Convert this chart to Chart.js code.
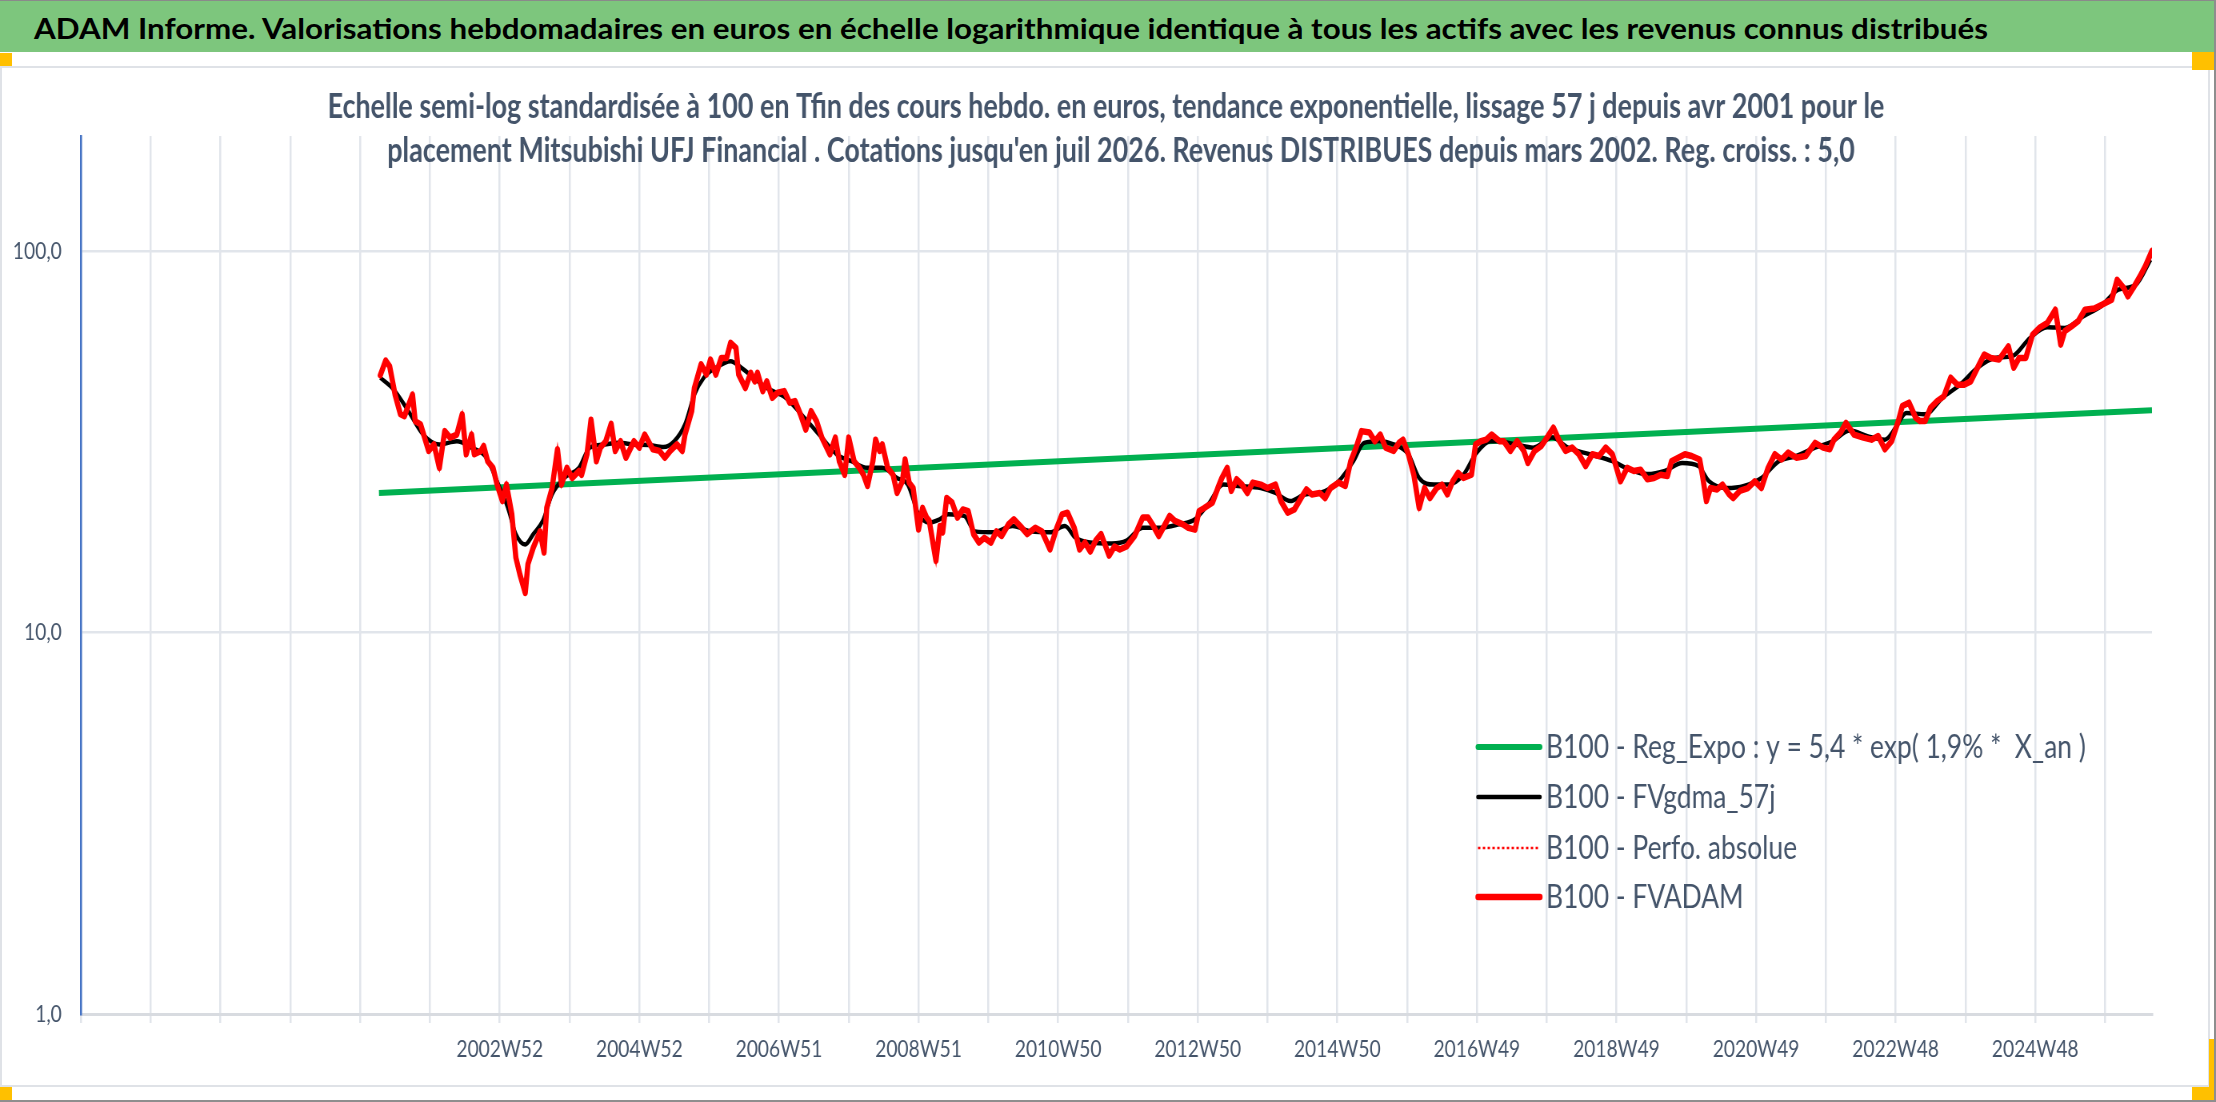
<!DOCTYPE html>
<html>
<head>
<meta charset="utf-8">
<title>ADAM Informe - Mitsubishi UFJ Financial</title>
<script src="https://cdn.jsdelivr.net/npm/chart.js"></script>
<style>
  body { margin: 0; width: 2216px; height: 1102px; overflow: hidden; background: #fff; position: relative; font-family: Lato, sans-serif; }
  #band { position: absolute; left: 0; top: 0; width: 2216px; height: 52px; background: #7dc67d; border-top: 1px solid #8a8a8a; box-sizing: border-box; z-index: 3; }
  #bandText { position: absolute; left: 34px; top: 12px; font: 700 29px/29px Lato, sans-serif; color: #000; white-space: nowrap; transform-origin: 0 0; }
  #frame { position: absolute; left: 0; top: 66px; width: 2210px; height: 1021px; border: 2px solid #dfe2e7; box-sizing: border-box; }
  .hd { position: absolute; background: #ffc000; z-index: 3; }
  .edge { position: absolute; background: #8e8e8e; z-index: 3; }
  #chart { position: absolute; left: 0; top: 0; z-index: 2; }
</style>
</head>
<body>
<div id="band"><span id="bandText">ADAM Informe. Valorisations hebdomadaires en euros en échelle logarithmique identique à tous les actifs avec les revenus connus distribués</span></div>
<div id="frame"></div>
<div class="hd" style="left:0;top:53px;width:12px;height:13px"></div>
<div class="hd" style="left:2192px;top:52px;width:22px;height:18px"></div>
<div class="hd" style="left:0;top:1087px;width:12px;height:13px"></div>
<div class="hd" style="left:2192px;top:1087px;width:22px;height:13px"></div>
<div class="hd" style="left:2209px;top:1039px;width:5px;height:61px"></div>
<div class="edge" style="left:0;top:1100px;width:2216px;height:2px"></div>
<div class="edge" style="left:2214px;top:0;width:2px;height:1102px"></div>
<canvas id="chart" width="2770" height="1102" style="width:2216px;height:1102px"></canvas>
<script>
// the whole chart is drawn 25% wider and shown squeezed, like the reference
const S = 0.8
const W = 2770

const subtitleLines = [
  'Echelle semi-log standardisée à 100 en Tfin des cours hebdo. en euros, tendance exponentielle, lissage 57 j depuis avr 2001 pour le',
  "placement Mitsubishi UFJ Financial . Cotations jusqu'en juil 2026. Revenus DISTRIBUES depuis mars 2002. Reg. croiss. : 5,0"
]

// x = week number counted from the left edge of the axis (52 weeks per grid step)
const xTickLabels = ['2002W52','2004W52','2006W51','2008W51','2010W50','2012W50','2014W50','2016W49','2018W49','2020W49','2022W48','2024W48']
const yTickValues = [1, 10, 100]

const regWeek = [222, 1543]
const regValue = [23.2, 38.2]

const fvadamWeek = [
  223,227,230,234,238,241,247,249,253,259,263,267,271,275,280,284,287,291,293,298,
  300,303,307,310,314,317,321,324,327,331,333,337,342,345,347,351,355,358,362,366,
  371,373,377,380,384,387,391,395,398,402,406,412,416,420,426,431,435,439,444,448,
  450,455,457,462,466,469,473,477,481,484,488,490,495,499,502,504,508,511,515,519,
  524,528,532,536,540,544,548,552,558,562,565,569,572,576,580,583,586,590,592,595,
  597,601,605,608,612,614,617,620,624,627,630,632,637,640,642,645,649,653,657,661,
  665,669,673,678,682,686,691,695,701,705,711,716,722,727,731,735,740,744,748,752,
  756,760,766,770,774,779,785,791,795,799,803,807,811,815,821,825,830,833,837,843,
  847,850,854,857,861,865,869,873,879,884,890,894,899,904,909,913,917,923,927,931,
  937,942,946,950,954,960,964,968,972,978,982,985,989,993,997,1001,1005,1010,1014,1018,
  1022,1026,1030,1036,1039,1043,1047,1051,1057,1060,1065,1070,1075,1078,1083,1088,1093,1097,1101,1106,
  1111,1116,1121,1126,1131,1136,1141,1144,1147,1152,1157,1162,1167,1172,1177,1182,1185,1190,1195,1200,
  1206,1208,1211,1214,1219,1223,1228,1231,1236,1242,1247,1252,1257,1262,1267,1272,1278,1285,1292,1298,
  1303,1306,1311,1315,1321,1328,1334,1339,1344,1349,1354,1357,1362,1367,1370,1374,1378,1383,1388,1393,
  1398,1403,1408,1413,1418,1423,1429,1436,1440,1444,1449,1454,1459,1465,1471,1475,1478,1483,1488,1493,
  1500,1506,1513,1517,1522,1525,1529,1534,1538,1543
]
const fvadamValue = [
  47.2,51.6,49.8,42.0,37.3,36.9,42.0,35.8,35.1,29.9,31.1,27.0,33.7,32.4,33.0,37.3,29.3,33.0,29.3,29.9,
  30.8,28.1,27.0,24.4,22.1,24.4,20.4,15.7,14.2,12.7,15.1,16.7,18.4,16.2,21.2,23.9,30.2,24.4,27.0,25.4,
  26.5,25.9,29.3,36.1,28.1,30.5,31.7,35.2,29.9,31.7,28.7,31.7,30.5,33.0,30.2,29.9,28.7,29.9,31.1,29.9,
  33.0,38.0,43.7,50.4,47.4,51.9,47.4,52.4,52.4,57.4,55.7,47.4,43.7,47.9,45.5,47.9,42.9,45.5,41.2,42.5,
  42.9,40.0,40.4,37.3,34.0,38.0,35.8,32.4,29.3,32.4,28.1,25.9,32.4,28.1,27.0,25.9,24.2,28.1,32.0,29.9,
  31.1,27.0,25.9,23.2,24.9,28.4,24.7,23.9,18.6,21.2,20.0,19.6,15.4,19.0,18.3,22.5,21.9,20.0,21.0,20.8,
  18.1,17.2,17.7,17.2,18.4,17.9,19.2,19.8,18.8,18.1,18.8,18.4,16.5,18.8,20.4,20.6,18.8,16.5,17.2,16.3,
  17.4,18.1,15.9,16.8,16.5,16.8,17.9,20.0,20.0,19.0,17.9,19.0,20.2,19.6,19.2,18.8,18.6,20.8,21.2,21.9,
  23.9,25.4,27.0,23.5,25.2,24.4,23.2,24.7,24.4,23.9,24.4,22.1,20.6,21.0,22.5,23.7,23.0,23.2,22.5,23.9,
  24.7,24.2,28.1,30.5,33.7,33.4,31.7,33.0,30.5,29.9,31.4,32.0,29.3,25.9,21.2,23.9,22.5,23.9,24.4,23.0,
  24.9,26.2,25.4,25.9,31.1,31.7,32.0,33.0,31.7,31.7,29.9,31.7,29.9,27.8,29.9,30.8,32.7,34.4,32.0,29.9,
  30.5,29.3,27.3,29.3,29.0,30.5,29.3,27.0,24.9,27.0,26.5,26.7,25.2,25.4,25.9,25.7,28.1,28.7,29.3,29.0,
  28.4,25.9,22.1,23.9,23.7,24.4,23.0,22.5,23.5,23.9,24.9,23.9,27.0,29.3,28.4,29.6,28.7,29.0,31.4,30.5,
  30.2,32.0,33.4,35.4,33.0,32.4,32.0,32.7,30.2,31.7,35.8,39.2,40.0,36.5,35.8,35.8,38.8,40.4,41.6,46.5,
  44.6,44.6,45.5,49.4,53.5,52.4,51.9,56.2,49.4,52.4,52.4,60.3,62.8,64.7,70.1,56.8,61.6,63.4,65.4,70.1,
  70.6,72.3,74.5,84.0,79.9,76.0,79.9,85.7,91.1,100.0
]

const gdmaWeek = [
  223,233,244,255,267,280,291,302,310,318,324,331,337,344,351,360,371,379,390,401,
  412,423,434,442,450,457,464,473,484,492,500,511,525,539,552,563,574,586,597,608,
  616,624,632,640,646,658,666,680,694,708,722,733,741,752,768,779,791,804,818,830,
  840,851,862,879,890,901,912,923,937,948,956,967,978,989,997,1008,1019,1030,1039,1050,
  1055,1069,1082,1096,1108,1124,1141,1154,1167,1180,1193,1205,1213,1226,1239,1252,1265,1278,1292,1305,
  1318,1331,1344,1352,1360,1374,1387,1400,1413,1426,1439,1452,1465,1478,1492,1505,1518,1531,1542
]
const gdmaValue = [
  46.5,43.3,38.0,33.0,31.1,31.7,30.5,28.7,24.9,21.2,18.1,17.0,18.1,19.6,23.0,25.4,27.0,30.5,31.1,31.4,
  31.1,31.0,30.6,31.7,35.1,42.0,46.5,49.4,51.4,49.4,46.9,43.7,41.2,36.5,32.4,29.3,28.1,27.0,27.0,25.4,
  24.4,20.4,19.4,19.8,20.4,20.2,18.4,18.3,19.0,18.4,18.3,19.0,17.7,17.2,17.1,17.4,18.8,18.8,19.2,19.8,
  21.7,24.4,24.2,23.9,23.2,22.1,23.0,23.2,24.9,28.1,31.4,31.7,31.1,29.3,25.4,24.4,24.4,25.9,29.3,31.7,
  31.7,31.1,30.5,32.4,30.5,29.3,28.1,26.7,26.0,26.5,27.8,27.3,24.9,23.9,24.2,25.4,28.1,29.0,30.5,31.7,
  33.8,32.7,32.0,34.4,37.6,37.3,41.2,44.6,49.4,52.4,53.0,59.1,63.1,62.8,67.4,71.6,79.1,81.5,94.8
]

const toXY = (xs, ys) => xs.map((x, i) => ({x: x, y: ys[i]}))
const xGrid = []
for (let w = 0; w <= 1543; w += 52) xGrid.push(w)

const textColor = '#44546a'
const gridColor = '#e1e5eb'
const legendRowY = [747, 797, 848, 897]

const subtitlePlugin = {
  id: 'subtitle',
  beforeDatasetsDraw(chart) {
    const ctx = chart.ctx
    ctx.save()
    ctx.font = '700 100px Lato'
    const size = 100 * (1557 / S) / ctx.measureText(subtitleLines[0]).width
    ctx.font = '700 ' + size.toFixed(2) + 'px Lato'
    ctx.fillStyle = textColor
    ctx.textAlign = 'center'
    ctx.textBaseline = 'middle'
    ctx.fillText(subtitleLines[0], 1106 / S, 107)
    ctx.fillText(subtitleLines[1], 1121 / S, 151)
    ctx.restore()
  }
}

const innerLegend = {
  id: 'innerLegend',
  afterDatasetsDraw(chart) {
    const ctx = chart.ctx
    const sets = chart.data.datasets
    ctx.save()
    ctx.font = '400 100px Lato'
    const size = 100 * (540 / S) / ctx.measureText(sets[0].label).width
    ctx.font = '400 ' + size.toFixed(2) + 'px Lato'
    ctx.textBaseline = 'middle'
    sets.forEach((ds, i) => {
      const y = legendRowY[i]
      ctx.strokeStyle = ds.borderColor
      ctx.lineWidth = ds.borderWidth
      ctx.lineCap = ds.borderDash ? 'butt' : 'round'
      ctx.setLineDash(ds.borderDash || [])
      ctx.beginPath()
      ctx.moveTo(1478 / S, y)
      ctx.lineTo(1540 / S, y)
      ctx.stroke()
      ctx.setLineDash([])
      ctx.fillStyle = textColor
      ctx.fillText(ds.label, 1546 / S, y)
    })
    ctx.restore()
  }
}

const config = {
  type: 'line',
  data: {
    datasets: [
      {
        label: 'B100 - Reg_Expo : y = 5,4 * exp( 1,9% *  X_an )',
        data: toXY(regWeek, regValue),
        borderColor: '#00b050',
        borderWidth: 6,
        pointRadius: 0,
        order: 4
      },
      {
        label: 'B100 - FVgdma_57j',
        data: toXY(gdmaWeek, gdmaValue),
        borderColor: '#000000',
        borderWidth: 4.5,
        pointRadius: 0,
        cubicInterpolationMode: 'monotone',
        borderJoinStyle: 'round',
        order: 3
      },
      {
        label: 'B100 - Perfo. absolue',
        data: toXY(fvadamWeek, fvadamValue),
        borderColor: '#ff0000',
        borderWidth: 2.5,
        borderDash: [3, 3],
        pointRadius: 0,
        order: 2
      },
      {
        label: 'B100 - FVADAM',
        data: toXY(fvadamWeek, fvadamValue),
        borderColor: '#ff0000',
        borderWidth: 6.5,
        pointRadius: 0,
        borderJoinStyle: 'round',
        borderCapStyle: 'round',
        order: 1
      }
    ]
  },
  options: {
    responsive: false,
    animation: false,
    devicePixelRatio: 1,
    layout: {
      padding: {top: 136, right: W - 2152 / S, left: 0, bottom: 0}
    },
    plugins: {
      legend: {display: false},
      title: {display: false},
      tooltip: {enabled: false}
    },
    scales: {
      x: {
        type: 'linear',
        min: 0,
        max: 1543,
        afterBuildTicks: s => { s.ticks = xGrid.map(v => ({value: v})) },
        afterFit: s => { s.height = 88 },
        grid: {color: gridColor, lineWidth: 2.5, tickLength: 9, drawTicks: true},
        border: {color: '#d8dbe0', width: 3},
        ticks: {
          autoSkip: false,
          maxRotation: 0,
          minRotation: 0,
          padding: 12,
          color: textColor,
          font: {family: 'Lato', size: 24},
          callback: v => {
            const u = Math.round(v / 52)
            return (u >= 6 && u % 2 === 0 && xTickLabels[(u - 6) / 2]) ? xTickLabels[(u - 6) / 2] : ''
          }
        }
      },
      y: {
        type: 'logarithmic',
        min: 1,
        max: 200,
        afterBuildTicks: s => { s.ticks = yTickValues.map(v => ({value: v})) },
        afterFit: s => { s.width = 81 / S },
        grid: {color: gridColor, lineWidth: 2.5, drawTicks: false},
        border: {color: '#4472c4', width: 2.5},
        ticks: {
          padding: 24,
          color: textColor,
          font: {family: 'Lato', size: 24},
          callback: v => Number(v).toFixed(1).replace('.', ',')
        }
      }
    }
  },
  plugins: [subtitlePlugin, innerLegend]
}

new Chart(document.getElementById('chart'), config)

// fit the band title to the width it has in the reference
const bt = document.getElementById('bandText')
bt.style.transform = 'scaleX(' + (1954 / bt.getBoundingClientRect().width) + ')'
</script>
</body>
</html>
